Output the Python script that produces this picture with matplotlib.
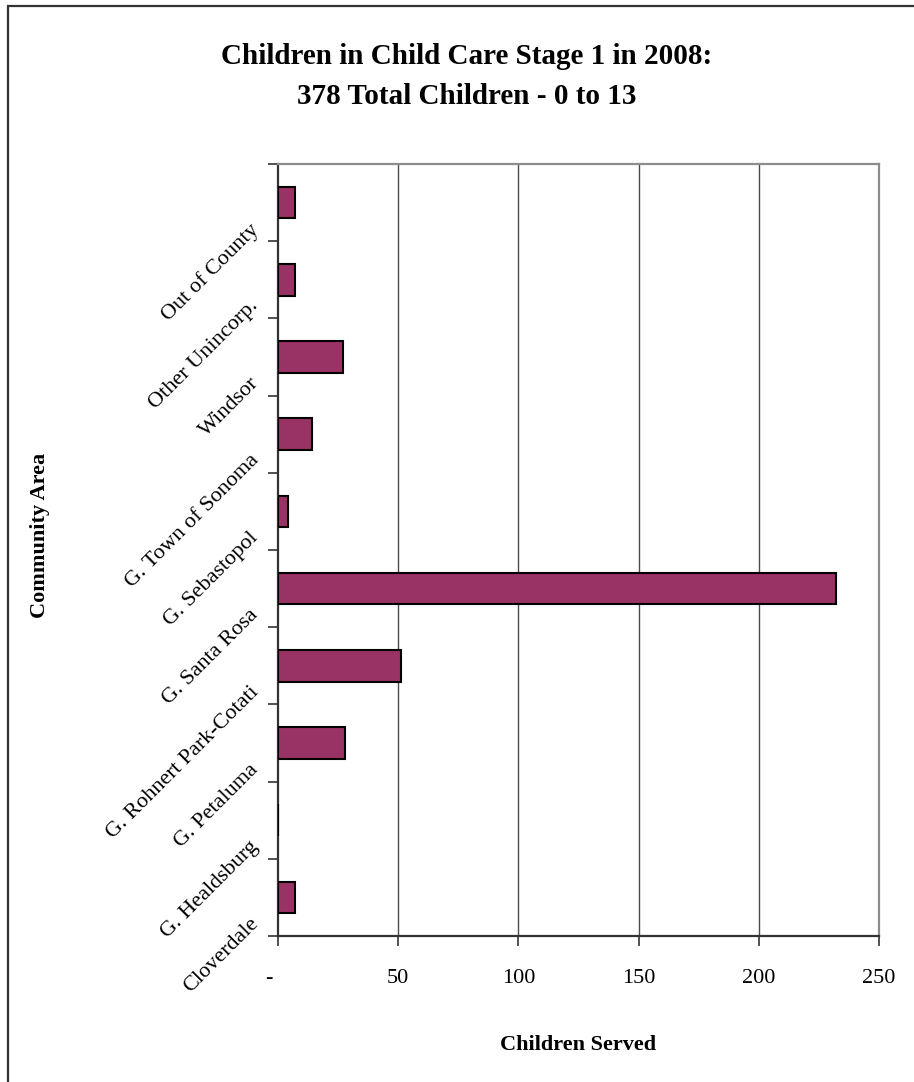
import matplotlib
matplotlib.use("Agg")
import matplotlib.pyplot as plt
import matplotlib.transforms as mtransforms
import numpy as np
from matplotlib.patches import Rectangle

plt.rcParams['font.family'] = ['Liberation Serif', 'DejaVu Serif']

# Community areas, bottom to top
areas = ["Cloverdale", "G. Healdsburg", "G. Petaluma", "G. Rohnert Park-Cotati",
         "G. Santa Rosa", "G. Sebastopol", "G. Town of Sonoma", "Windsor",
         "Other Unincorp.", "Out of County"]
children = [7, 0, 28, 51, 232, 4, 14, 27, 7, 7]
x_ticks = [0, 50, 100, 150, 200, 250]
x_tick_labels = ["-", "50", "100", "150", "200", "250"]

W, H = 914, 1082
fig = plt.figure(figsize=(W / 100, H / 100), dpi=100)
fig.patch.set_facecolor("white")

# outer chart frame
fig.add_artist(Rectangle((8 / W, 0 - 0.01), 1.05, (H - 6) / H + 0.01,
                         transform=fig.transFigure, fill=False,
                         edgecolor="#333333", linewidth=1.6))

left, right, top, bottom = 278, 879, 164, 936
ax = fig.add_axes([left / W, 1 - bottom / H, (right - left) / W, (bottom - top) / H])

pos = np.arange(len(areas))
ax.barh(pos, children, height=0.41, color="#993366", edgecolor="black",
        linewidth=1.5, zorder=3)

ax.set_xlim(0, 250)
ax.set_ylim(-0.5, len(areas) - 0.5)

# vertical gridlines
for v in x_ticks[1:-1]:
    ax.axvline(v, color="#4a4a4a", linewidth=1.0, zorder=1)

for s in ["top", "right"]:
    ax.spines[s].set_color("#8c8c8c")
    ax.spines[s].set_linewidth(1.6)
for s in ["left", "bottom"]:
    ax.spines[s].set_color("#333333")
    ax.spines[s].set_linewidth(1.6)

ax.set_xticks(x_ticks)
ax.set_xticklabels(x_tick_labels, fontsize=16)
ax.tick_params(axis="x", direction="out", length=7, width=1.2, pad=17, colors="#333333",
               labelcolor="black")
zero_lbl = ax.get_xticklabels()[0]
zero_lbl.set_transform(zero_lbl.get_transform() +
                       mtransforms.ScaledTranslation(-9 / 100, 0, fig.dpi_scale_trans))

# category ticks sit on the boundaries between bars
bounds = np.arange(-0.5, len(areas), 1.0)
ax.set_yticks(bounds)
ax.set_yticklabels([""] * len(bounds))
ax.tick_params(axis="y", direction="out", length=7, width=1.2, colors="#333333")

# slanted category names, hung just above the boundary below each bar
lbl_tr = mtransforms.blended_transform_factory(ax.transAxes, ax.transData) + \
    mtransforms.ScaledTranslation(-29 / 100, 0, fig.dpi_scale_trans)
for i, name in enumerate(areas):
    ax.text(0, i - 0.22, name, transform=lbl_tr, rotation=45,
            rotation_mode="anchor", ha="right", va="top", fontsize=16,
            clip_on=False)

fig.text(467 / W, 1 - 57 / H, "Children in Child Care Stage 1 in 2008:",
         ha="center", va="center", fontsize=21, fontweight="bold")
fig.text(467 / W, 1 - 97 / H, "378 Total Children - 0 to 13",
         ha="center", va="center", fontsize=21, fontweight="bold")

fig.text(578 / W, 1 - 1045 / H, "Children Served", ha="center", va="center",
         fontsize=16, fontweight="bold")
fig.text(40 / W, 1 - 535 / H, "Community Area", ha="center", va="center",
         fontsize=16, fontweight="bold", rotation=90)

fig.savefig("out.png", dpi=100, facecolor="white")
